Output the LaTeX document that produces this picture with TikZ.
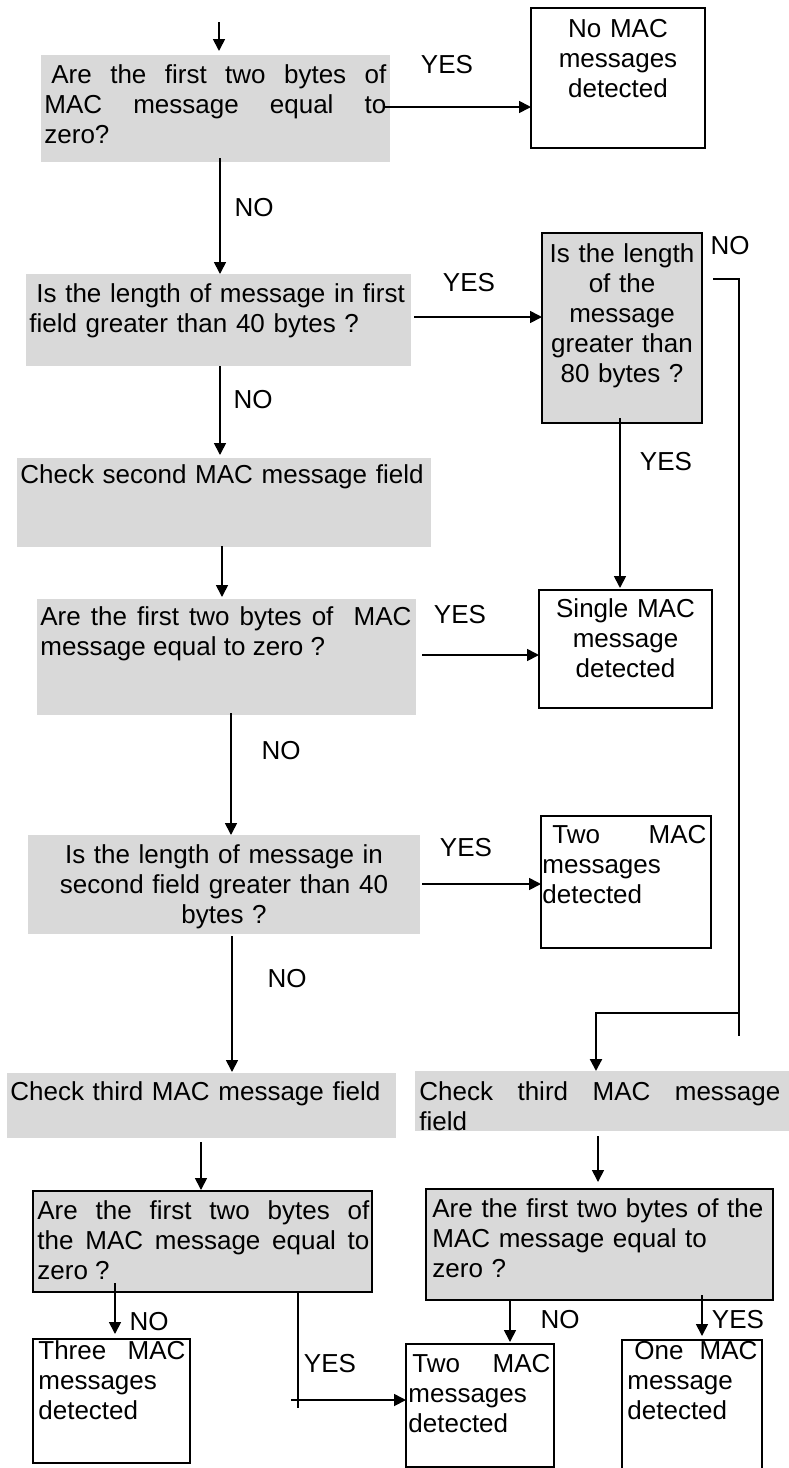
\documentclass[tikz,border=0pt]{standalone}
\usepackage{fontspec}
\setmainfont{Liberation Sans}
\usetikzlibrary{arrows.meta,fit,calc}
\definecolor{boxgray}{RGB}{217,217,217}
\newcommand{\flowfont}{\fontsize{13pt}{15pt}\selectfont\hyphenpenalty=10000 \exhyphenpenalty=10000 \tolerance=10000 \hbadness=10000 }
\begin{document}
\begin{tikzpicture}[x=0.5pt,y=-0.5pt,
  gbox/.style={fill=boxgray, draw=none, inner sep=0pt, outer sep=0pt},
  gbbox/.style={fill=boxgray, draw=black, line width=1pt, inner sep=0pt, outer sep=0pt},
  wbox/.style={fill=white, draw=black, line width=1pt, inner sep=0pt, outer sep=0pt},
  tj/.style={inner sep=0pt, anchor=base west, font=\flowfont, align=justify},
  tl/.style={inner sep=0pt, anchor=base west, font=\flowfont, align=left},
  tc/.style={inner sep=0pt, anchor=base, font=\flowfont, align=center},
  lbl/.style={inner sep=0pt, font=\flowfont},
  arr/.style={line width=0.85pt, -{Triangle[length=6pt,width=6pt]}},
  ln/.style={line width=0.85pt},
  thk/.style={line width=1.1pt},
]
\useasboundingbox (0,0) rectangle (788,1468);

% ---- boxes ----
\node[gbox,  fit={(41,55) (390,162)}] (A) {};
\node[wbox,  fit={(531,8) (705,148)}] (B) {};
\node[gbox,  fit={(26,274) (411,366)}] (C) {};
\node[gbbox, fit={(542,233) (702,423)}] (D) {};
\node[gbox,  fit={(17,458) (431,547)}] (E) {};
\node[gbox,  fit={(37,599) (416,715)}] (F) {};
\node[wbox,  fit={(539,590) (712,708)}] (G) {};
\node[gbox,  fit={(28,835) (420,934)}] (H) {};
\node[wbox,  fit={(541,816) (711,948)}] (I) {};
\node[gbox,  fit={(7,1073) (396,1138)}] (L) {};
\node[gbox,  fit={(415,1071) (790,1131)}] (M) {};
\node[gbbox, fit={(33,1191) (372,1292)}] (J) {};
\node[gbbox, fit={(426,1189) (773,1300)}] (K) {};
\node[wbox,  fit={(33,1339) (190,1463)}] (N) {};
\node[wbox,  fit={(406,1344) (554,1467)}] (O) {};
\node[wbox,  fit={(622,1340) (762,1490)}] (P) {};

% ---- texts ----
\node[tj, text width=171pt] (tA) at (44,83) {\hspace*{3.5pt}Are the first two bytes of\linebreak MAC message equal to\linebreak zero?};
\node[tc, text width=87pt] (tB) at (618,37) {No MAC\\messages\\detected};
\node[tl, text width=195pt] (tC) at (29,302) {\hspace*{3.5pt}Is the length of message in first\\field greater than 40 bytes ?};
\node[tc, text width=80pt] (tD) at (622,262) {Is the length\\of the\\message\\greater than\\80 bytes ?};
\node[tl, text width=205pt] (tE) at (20,483) {Check second MAC message field};
\node[tj, text width=185.5pt] (tF) at (40,625) {Are the first two bytes of\ \ MAC\linebreak message equal to zero ?};
\node[tc, text width=86pt] (tG) at (625.5,617) {Single MAC\\message\\detected};
\node[tc, text width=196pt] (tH) at (224,863) {Is the length of message in\\second field greater than 40\\bytes ?};
\node[tj, text width=82pt] (tI) at (542,843) {\hspace*{5pt}Two MAC\linebreak messages\\detected};
\node[tl, text width=193pt] (tL) at (10,1100) {Check third MAC message field};
\node[tj, text width=180.5pt] (tM) at (419,1100) {Check third MAC message\linebreak field};
\node[tj, text width=166pt] (tJ) at (37,1219) {Are the first two bytes of\linebreak the MAC message equal to\linebreak zero ?};
\node[tl, text width=172pt] (tK) at (432,1217) {Are the first two bytes of the\\MAC message equal to\\zero ?};
\node[tj, text width=73.5pt] (tN) at (38,1359) {Three MAC\linebreak messages\\detected};
\node[tj, text width=71pt] (tO) at (408,1372) {\hspace*{2pt}Two MAC\linebreak messages\\detected};
\node[tj, text width=65pt] (tP) at (627,1359) {\hspace*{3.5pt}One MAC\linebreak message\\detected};

% ---- labels ----
\node[lbl] (yes1) at (447,65) {YES};
\node[lbl] (no1) at (254,208) {NO};
\node[lbl] (yes2) at (469,283) {YES};
\node[lbl] (noD) at (730,246) {NO};
\node[lbl] (no2) at (253,400) {NO};
\node[lbl] (yesD) at (666,462) {YES};
\node[lbl] (yes3) at (460,615) {YES};
\node[lbl] (no3) at (281,751) {NO};
\node[lbl] (yes4) at (466,848) {YES};
\node[lbl] (no4) at (287,979) {NO};
\node[lbl] (no5) at (149,1322) {NO};
\node[lbl] (yes5) at (330,1364) {YES};
\node[lbl] (no6) at (560,1320) {NO};
\node[lbl] (yes6) at (738,1320) {YES};

% ---- connector start points ----
\coordinate (entry) at (219,22);
\coordinate (sAB) at ($(A.east)+(-5,-1.5)$);
\coordinate (sAC) at ($(A.south)+(4.5,-4)$);
\coordinate (sCD) at ($(C.east)+(3,-3)$);
\coordinate (sNo) at ($(D.east)+(11,-49)$);
\coordinate (noEnd) at (739,1036);
\coordinate (mrg) at (739,1013);
\coordinate (tM0) at ($(M.north)+(-6.5,0)$);
\coordinate (sDG) at ($(D.south)+(-2,-5)$);
\coordinate (sCE) at ($(C.south)+(1.5,0)$);
\coordinate (sEF) at ($(E.south)+(-2,-1)$);
\coordinate (sFG) at ($(F.east)+(6,-2)$);
\coordinate (sFH) at ($(F.south)+(4.5,-2)$);
\coordinate (sHI) at ($(H.east)+(2,-0.5)$);
\coordinate (sHL) at ($(H.south)+(8,2)$);
\coordinate (sLJ) at ($(L.south)+(-0.5,4)$);
\coordinate (sMK) at ($(M.south)+(-4.5,5)$);
\coordinate (sJN) at ($(J.south)+(-87.5,-9)$);
\coordinate (sJY) at ($(J.south)+(95.5,1)$);
\coordinate (yesEnd) at (298,1408);
\coordinate (yesStart) at (291,1400);
\coordinate (sKO) at ($(K.south)+(-89.5,0)$);
\coordinate (sKP) at ($(K.south)+(102.5,-5)$);

% ---- connectors ----
\draw[arr, shorten >=2pt] (entry) -- (entry |- A.north);
\draw[arr] (sAB) -- (sAB -| B.west);
\draw[arr] (sAC) -- (sAC |- C.north);
\draw[arr] (sCD) -- (sCD -| D.west);
\draw[thk] (sNo) -| (noEnd);
\draw[arr, thk] (mrg) -| (tM0);
\draw[arr, shorten >=1pt] (sDG) -- (sDG |- G.north);
\draw[arr, shorten >=1.5pt] (sCE) -- (sCE |- E.north);
\draw[arr, shorten >=1pt] (sEF) -- (sEF |- F.north);
\draw[arr] (sFG) -- (sFG -| G.west);
\draw[arr] (sFH) -- (sFH |- H.north);
\draw[arr] (sHI) -- (sHI -| I.west);
\draw[arr, shorten >=0.5pt] (sHL) -- (sHL |- L.north);
\draw[arr, shorten >=0.5pt] (sLJ) -- (sLJ |- J.north);
\draw[arr, shorten >=3.5pt] (sMK) -- (sMK |- K.north);
\draw[arr, shorten >=2.5pt] (sJN) -- (sJN |- N.north);
\draw[ln] (sJY) -- (yesEnd);
\draw[arr] (yesStart) -- (yesStart -| O.west);
\draw[arr, shorten >=1pt] (sKO) -- (sKO |- O.north);
\draw[arr, shorten >=2pt] (sKP) -- (sKP |- P.north);
\end{tikzpicture}
\end{document}
